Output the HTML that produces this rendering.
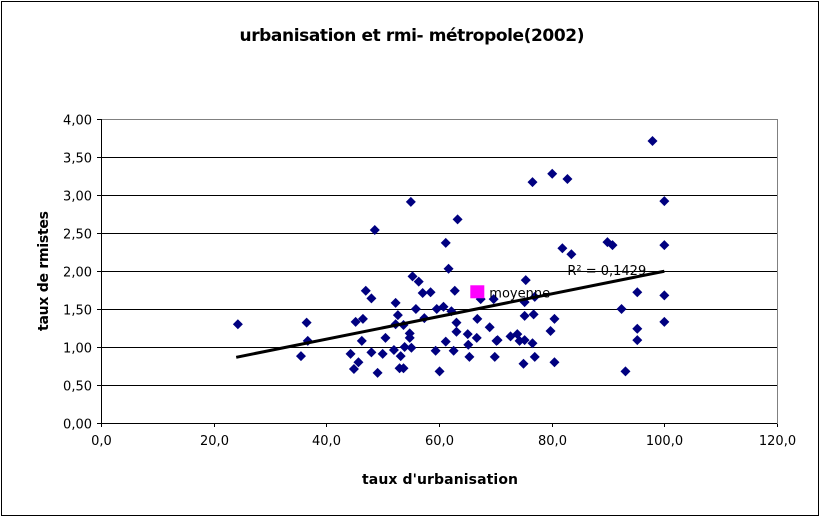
<!DOCTYPE html>
<html><head><meta charset="utf-8"><style>
html,body{margin:0;padding:0;background:#fff;}
svg{display:block;font-family:"DejaVu Sans","Liberation Sans",Arial,sans-serif;}
</style></head><body>
<svg id="chart" width="822" height="520">
<rect x="1.5" y="1.5" width="817" height="514" fill="#fff" stroke="#000" stroke-width="1"/>
<text x="412" y="41" text-anchor="middle" font-size="17" font-weight="bold" textLength="345">urbanisation et rmi- métropole(2002)</text>
<text x="440" y="484" text-anchor="middle" font-size="14" font-weight="bold" textLength="156">taux d'urbanisation</text>
<text transform="translate(48,271) rotate(-90)" text-anchor="middle" font-size="14" font-weight="bold" textLength="120">taux de rmistes</text>
<g id="grid"></g><g id="axes"></g><g id="marks"></g>
</svg>
<script>
const xTicks=[0,20,40,60,80,100,120];
const xTickLabels=["0,0","20,0","40,0","60,0","80,0","100,0","120,0"];
const yTicks=[0,0.5,1,1.5,2,2.5,3,3.5,4];
const yTickLabels=["0,00","0,50","1,00","1,50","2,00","2,50","3,00","3,50","4,00"];
const urbanisation=[24.3,36.5,36.7,35.5,55.0,48.6,63.3,61.2,61.7,55.3,56.4,47.0,48.0,57.1,58.5,62.8,52.3,55.9,59.6,60.8,62.2,52.7,45.2,46.5,52.3,53.7,57.4,63.1,66.8,69.0,63.1,54.8,54.8,50.5,46.3,65.1,66.7,61.2,65.2,70.2,53.9,55.1,52.0,48.0,50.0,44.3,59.4,62.6,53.2,65.4,69.9,45.7,44.9,49.1,53.0,53.7,60.1,67.4,69.7,97.9,76.6,80.1,82.8,100.0,89.9,90.8,81.9,83.5,100.0,75.4,95.2,100.0,77.0,75.2,92.4,100.0,76.8,75.2,80.5,79.8,95.2,70.4,72.7,73.9,74.3,75.2,76.6,95.2,77.0,75.0,80.5,93.1];
const rmistes=[1.30,1.32,1.08,0.88,2.91,2.54,2.68,2.37,2.03,1.93,1.86,1.74,1.64,1.71,1.72,1.74,1.58,1.50,1.50,1.53,1.47,1.42,1.33,1.37,1.30,1.29,1.38,1.32,1.37,1.26,1.20,1.18,1.12,1.12,1.08,1.17,1.12,1.07,1.03,1.08,1.00,0.99,0.96,0.93,0.91,0.91,0.95,0.95,0.88,0.87,0.87,0.80,0.71,0.66,0.72,0.72,0.68,1.63,1.63,3.71,3.17,3.28,3.21,2.92,2.38,2.34,2.30,2.22,2.34,1.88,1.72,1.68,1.66,1.59,1.50,1.33,1.43,1.41,1.37,1.21,1.24,1.09,1.14,1.17,1.08,1.09,1.05,1.09,0.87,0.78,0.80,0.68];
const moyenne=[66.8,1.72];
const trendX=[24,100];
const trendSlope=0.0149, trendIntercept=0.507;
const r2Label="R² = 0,1429";
const NS="http://www.w3.org/2000/svg";
const X0=101,X1=777,Y0=423,Y1=119;
const sx=v=>X0+(v-0)/120*(X1-X0);
const sy=v=>Y0-(v-0)/4*(Y0-Y1);
function mk(tag,attrs,parent){const e=document.createElementNS(NS,tag);for(const k in attrs)e.setAttribute(k,attrs[k]);parent.appendChild(e);return e;}
const grid=document.getElementById('grid'),axes=document.getElementById('axes'),marks=document.getElementById('marks');
yTicks.forEach((t,i)=>{
  const y=Math.round(sy(t))+0.5;
  if(t>0){const g=mk('line',{x1:X0,x2:X1,y1:y,y2:y,stroke:'#000','stroke-width':1},grid);
  
  }
  const tk=mk('line',{x1:X0-4,x2:X0,y1:y,y2:y,stroke:'#000'},axes);
  
  
  const l=mk('text',{x:X0-9,y:y+5,'text-anchor':'end','font-size':13},axes);l.textContent=yTickLabels[i];
  
  
});
xTicks.forEach((t,i)=>{
  const x=Math.round(sx(t))+0.5;
  const tk=mk('line',{x1:x,x2:x,y1:Y0,y2:Y0+4,stroke:'#000'},axes);
  
  
  const l=mk('text',{x:x,y:Y0+22,'text-anchor':'middle','font-size':13},axes);l.textContent=xTickLabels[i];
  
  
});
const pa=mk('rect',{x:X0+0.5,y:Y1+0.5,width:X1-X0,height:Y0-Y1,fill:'none',stroke:'#808080'},axes);


const xa=mk('line',{x1:X0,x2:X1,y1:Y0+0.5,y2:Y0+0.5,stroke:'#000'},axes);


const ya=mk('line',{x1:X0+0.5,x2:X0+0.5,y1:Y1,y2:Y0,stroke:'#000'},axes);


urbanisation.forEach((u,i)=>{
  const x=sx(u),y=sy(rmistes[i]);
  const p=mk('polygon',{points:`${x},${y-5} ${x+5},${y} ${x},${y+5} ${x-5},${y}`,fill:'#000080'},marks);
  
  
});
const tl=mk('line',{x1:sx(trendX[0]),y1:sy(trendSlope*trendX[0]+trendIntercept),x2:sx(trendX[1]),y2:sy(trendSlope*trendX[1]+trendIntercept),stroke:'#000','stroke-width':3},marks);


const r2=mk('text',{x:sx(trendX[1])-97,y:sy(trendSlope*trendX[1]+trendIntercept)+4,'font-size':13},marks);r2.textContent=r2Label;


const mx=sx(moyenne[0]),my=sy(moyenne[1]);
const mm=mk('rect',{x:mx-7,y:my-7,width:14,height:13,fill:'#ff00ff'},marks);


const ml=mk('text',{x:mx+12,y:my+5,'font-size':13},marks);ml.textContent="moyenne";


</script>
</body></html>
